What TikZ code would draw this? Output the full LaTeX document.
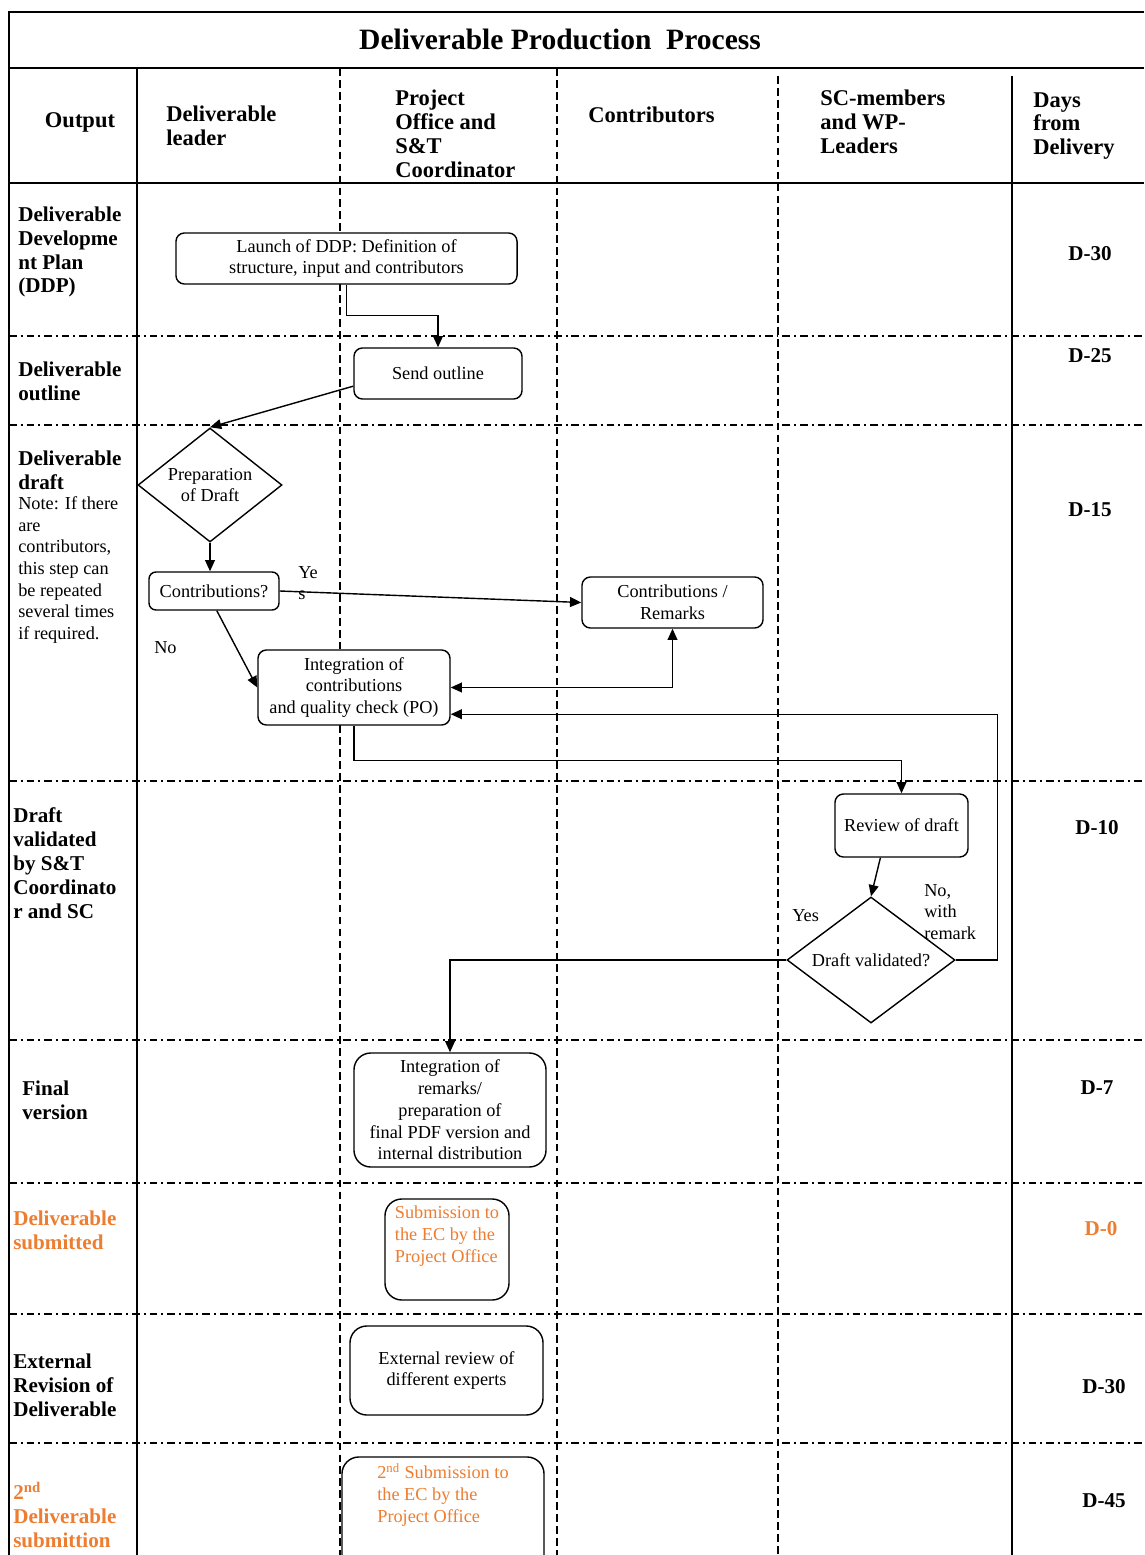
\documentclass[tikz,border=0pt]{standalone}
\usepackage{fontspec}
\setmainfont{Liberation Serif}
\usetikzlibrary{arrows.meta,shapes.geometric}

\definecolor{subOrange}{RGB}{237,125,49}

\tikzset{
  stepbox/.style={draw,fill=white,rounded corners=6pt,line width=1pt,align=center,inner sep=0pt,
    font=\fontsize{13}{15.5}\selectfont},
  decision/.style={draw,fill=white,diamond,line width=1pt,align=center,inner sep=0pt,
    font=\fontsize{13}{15.5}\selectfont},
  flow/.style={line width=1pt,-{Triangle[length=8pt,width=7pt]}},
  flowboth/.style={line width=1pt,{Triangle[length=8pt,width=7pt]}-{Triangle[length=8pt,width=7pt]}},
  lane/.style={line width=0.9pt,dash pattern=on 5.5pt off 3pt},
  rowsep/.style={line width=0.9pt,dash pattern=on 5.5pt off 2.8pt on 1.4pt off 2.8pt},
  border/.style={line width=1.1pt},
  headlabel/.style={anchor=west,align=left,inner sep=0pt,font=\bfseries\fontsize{16}{17}\selectfont},
  rowlabel/.style={anchor=west,align=left,inner sep=0pt,font=\bfseries\fontsize{15}{17}\selectfont},
  notelabel/.style={anchor=west,align=left,inner sep=0pt,font=\fontsize{13}{15.3}\selectfont},
  daylabel/.style={inner sep=0pt,font=\bfseries\fontsize{15}{17}\selectfont},
  flowlabel/.style={anchor=west,align=left,inner sep=0pt,font=\fontsize{13}{15.5}\selectfont},
}

\begin{document}
\begin{tikzpicture}[x=0.025cm,y=-0.025cm]
  \useasboundingbox (0,0) rectangle (1144,1555);
  \clip (0,0) rectangle (1144,1555);

  % table frame
  \draw[border] (1144,12) -- (9,12) -- (9,1555);
  \draw[border] (9,68) -- (1144,68);
  \draw[border] (9,183) -- (1144,183);
  \draw[border] (137,68) -- (137,1555);
  \draw[border] (1012,76) -- (1012,1555);
  \draw[lane] (340,68) -- (340,1555);
  \draw[lane] (557,68) -- (557,1555);
  \draw[lane] (778,76) -- (778,1555);
  \draw[rowsep] (9,336) -- (1144,336);
  \draw[rowsep] (9,425) -- (1144,425);
  \draw[rowsep] (9,781) -- (1144,781);
  \draw[rowsep] (9,1040) -- (1144,1040);
  \draw[rowsep] (9,1183) -- (1144,1183);
  \draw[rowsep] (9,1314) -- (1144,1314);
  \draw[rowsep] (9,1443) -- (1144,1443);

  % headings
  \node[font=\bfseries\fontsize{21}{24}\selectfont] (title) at (560,39) {Deliverable Production~~Process};
  \node[headlabel,anchor=center] (hOutput) at (80,122) {Output};
  \node[headlabel] (hLeader) at (166,126) {Deliverable\\leader};
  \node[headlabel] (hOffice) at (395,134) {Project\\Office and\\S\&T\\Coordinator};
  \node[headlabel] (hContrib) at (588,115) {Contributors};
  \node[headlabel] (hSC) at (820,122) {SC-members\\and WP-\\Leaders};
  \node[headlabel] (hDays) at (1033,126) {Days\\from\\Delivery};

  % output column
  \node[rowlabel] (rDDP) at (18,252) {Deliverable\\Developme\\nt Plan\\(DDP)};
  \node[rowlabel] (rOutline) at (18,381) {Deliverable\\outline};
  \node[rowlabel] (rDraft) at (18,470) {Deliverable\\draft};
  \node[notelabel] (rNote) at (18,570) {Note: If there\\are\\contributors,\\this step can\\be repeated\\several times\\if required.};
  \node[rowlabel] (rValid) at (13,863) {Draft\\validated\\by S\&T\\Coordinato\\r and SC};
  \node[rowlabel] (rFinal) at (22,1100) {Final\\version};
  \node[rowlabel,text=subOrange] (rSubmit) at (13,1230) {Deliverable\\submitted};
  \node[rowlabel] (rExternal) at (13,1385) {External\\Revision of\\Deliverable};
  \node[rowlabel,text=subOrange] (rSecond) at (13,1515) {2\textsuperscript{nd}\\Deliverable\\submittion};

  % days column
  \node[daylabel] (dDDP) at (1090,254) {D-30};
  \node[daylabel] (dOutline) at (1090,356) {D-25};
  \node[daylabel] (dDraft) at (1090,510) {D-15};
  \node[daylabel] (dValid) at (1097,828) {D-10};
  \node[daylabel] (dFinal) at (1097,1088) {D-7};
  \node[daylabel,text=subOrange] (dSubmit) at (1101,1229) {D-0};
  \node[daylabel] (dExternal) at (1104,1387) {D-30};
  \node[daylabel] (dSecond) at (1104,1501) {D-45};

  % process steps
  \node[stepbox,minimum width=8.525cm,minimum height=1.275cm] (launch) at (346.5,258.5)
    {Launch of DDP: Definition of\\structure, input and contributors};
  \node[stepbox,minimum width=4.2cm,minimum height=1.275cm] (send) at (438,373.5) {Send outline};
  \node[decision,shape aspect=1.26,minimum width=3.6cm,minimum height=2.85cm] (prep) at (210,485)
    {Preparation\\of Draft};
  \node[stepbox,rounded corners=5pt,minimum width=3.25cm,minimum height=0.95cm] (contribQ) at (214,591)
    {Contributions?};
  \node[stepbox,minimum width=4.525cm,minimum height=1.275cm] (remarks) at (672.5,602.5)
    {Contributions /\\Remarks};
  \node[stepbox,minimum width=4.8cm,minimum height=1.875cm] (integ) at (354,687.5)
    {Integration of\\contributions\\and quality check (PO)};
  \node[stepbox,minimum width=3.325cm,minimum height=1.575cm] (review) at (901.5,825.5) {Review of draft};
  \node[decision,shape aspect=1.33,minimum width=4.2cm,minimum height=3.15cm] (valid) at (871,960)
    {Draft validated?};
  \node[stepbox,rounded corners=12pt,minimum width=4.8cm,minimum height=2.85cm] (final) at (450,1110)
    {Integration of\\remarks/\\preparation of\\final PDF version and\\internal distribution};
  \node[stepbox,rounded corners=12pt,align=left,text=subOrange,minimum width=3.1cm,minimum height=2.525cm]
    (submit) at (447,1249.5) {Submission to\\the EC by the\\Project Office\\[6pt]\mbox{}};
  \node[stepbox,rounded corners=12pt,minimum width=4.825cm,minimum height=2.225cm] (external) at (446.5,1370.5)
    {External review of\\different experts};
  \node[stepbox,rounded corners=12pt,align=left,text=subOrange,minimum width=5.05cm,minimum height=3.25cm]
    (second) at (443,1522) {2\textsuperscript{nd} Submission to\\the EC by the\\Project Office\\[26pt]\mbox{}};

  % flow
  \draw[flow] (launch.south) -- ++(0,31) -| (send.north);
  \draw[flow] ([yshift=-9pt]send.west) -- (prep.north);
  \draw[flow] (prep.south) -- (prep.south |- contribQ.north);
  \draw[flow] (contribQ.east) -- (remarks.west);
  \draw[flow] ([xshift=2pt]contribQ.south) -- (integ.west);
  \draw[flowboth] (remarks.south) |- (integ.east);
  \draw[flow] (integ.south) -- ++(0,35) -| (review.north);
  \draw[flow] ([xshift=-15pt]review.south) -- (valid.north);
  \draw[flow] (valid.west) -| (final.north);
  \draw[flow] (valid.east) -- ++(42,0) |- ([yshift=-19pt]integ.east);

  \node[flowlabel] (lYes) at (298,583) {Ye\\s};
  \node[flowlabel] (lNo) at (154,648) {No};
  \node[flowlabel] (lValidYes) at (792,916) {Yes};
  \node[flowlabel] (lValidNo) at (924,912) {No,\\with\\remark};
\end{tikzpicture}
\end{document}
